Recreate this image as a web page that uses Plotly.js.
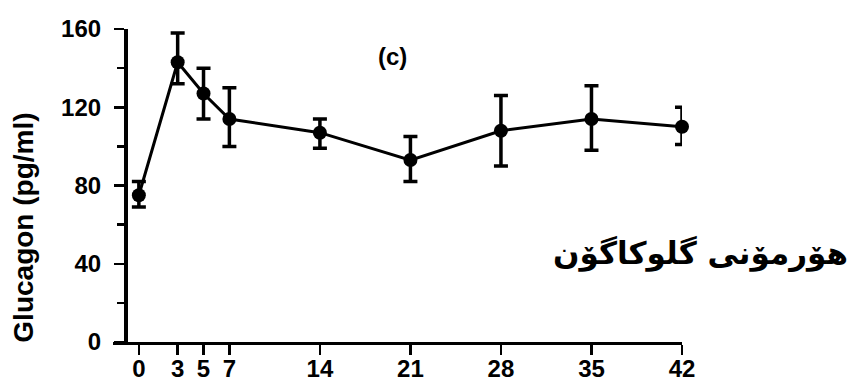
<!DOCTYPE html>
<html>
<head>
<meta charset="utf-8">
<script src="https://cdn.plot.ly/plotly-3.0.1.min.js"></script>
<style>html,body{margin:0;padding:0;background:#fff;}#chart{width:854px;height:387px;}</style>
</head>
<body>
<div id="chart"></div>
<script>
// Days after treatment
const days = [0, 3, 5, 7, 14, 21, 28, 35, 42];
// Glucagon (pg/ml) means
const glucagon = [75, 143, 127, 114, 107, 93, 108, 114, 110];
// Error bar half-widths (upper / lower)
const errUp = [7, 15, 13, 16, 7, 12, 18, 17, 10];
const errDown = [6, 11, 13, 14, 8, 11, 18, 16, 9];
const xTicks = [0, 3, 5, 7, 14, 21, 28, 35, 42];
const yTicks = [0, 40, 80, 120, 160];
const panelLabel = "(c)";
const kurdishTitle = "هۆرمۆنی گلوکاگۆن";
const yTitle = "Glucagon (pg/ml)";

const trace = {
  x: days, y: glucagon, type: 'scatter', mode: 'lines+markers',
  line: {color: '#000', width: 3},
  marker: {color: '#000', size: 14, symbol: 'circle'},
  error_y: {type: 'data', symmetric: false, array: errUp, arrayminus: errDown,
            color: '#000', thickness: 3.5, width: 7},
  cliponaxis: false,
  showlegend: false
};
// carrier for the label-only x axis (draws nothing)
const labelTrace = {x: days, y: glucagon, xaxis: 'x2', type: 'scatter', mode: 'none',
  hoverinfo: 'skip', showlegend: false};

const tickFont = {family: 'Liberation Sans, Arial, sans-serif', size: 24, color: '#000', weight: 'bold'};

const layout = {
  width: 854, height: 387,
  margin: {l: 113, r: 172, t: 29, b: 45},
  paper_bgcolor: '#fff', plot_bgcolor: '#fff',
  xaxis: {
    range: [-2, 42], tickvals: xTicks, showticklabels: false,
    showgrid: false, zeroline: false, showline: true, linecolor: '#000', linewidth: 3,
    ticks: 'outside', ticklen: 10, tickwidth: 2.5, tickcolor: '#000',
    fixedrange: true
  },
  xaxis2: {
    range: [-2, 42], tickvals: xTicks, ticktext: xTicks.map(String),
    overlaying: 'x', side: 'bottom', anchor: 'y',
    showgrid: false, zeroline: false, showline: false, ticks: '',
    ticklabelstandoff: 10,
    tickfont: tickFont, fixedrange: true
  },
  yaxis: {
    range: [0, 160], tickvals: yTicks, ticktext: yTicks.map(String),
    anchor: 'free', position: 1/44,
    showgrid: false, zeroline: false, showline: true, linecolor: '#000', linewidth: 4.5,
    ticks: 'outside', ticklen: 10, tickwidth: 2.5, tickcolor: '#000',
    minor: {tickvals: [20, 60, 100, 140], ticklen: 7, tickwidth: 2.5, tickcolor: '#000', ticks: 'outside'},
    ticklabelstandoff: 8,
    tickfont: tickFont,
    fixedrange: true
  },
  annotations: [
    {text: yTitle, xref: 'paper', yref: 'y', x: -0.158, y: 58.5, textangle: -90, showarrow: false,
     xanchor: 'center', yanchor: 'middle',
     font: {family: 'Liberation Sans, Arial, sans-serif', size: 28, color: '#000', weight: 'bold'}},
    {text: panelLabel, xref: 'x', yref: 'y', x: 19.6, y: 146, showarrow: false,
     font: {family: 'Liberation Sans, Arial, sans-serif', size: 24, color: '#000', weight: 'bold'}},
    {text: kurdishTitle, xref: 'paper', yref: 'y', x: 1.032, y: 45, xanchor: 'center', showarrow: false,
     font: {family: 'DejaVu Sans, sans-serif', size: 31, color: '#000', weight: 'bold'}}
  ]
};

Plotly.newPlot('chart', [labelTrace, trace], layout, {displayModeBar: false, staticPlot: true});
</script>
</body>
</html>
